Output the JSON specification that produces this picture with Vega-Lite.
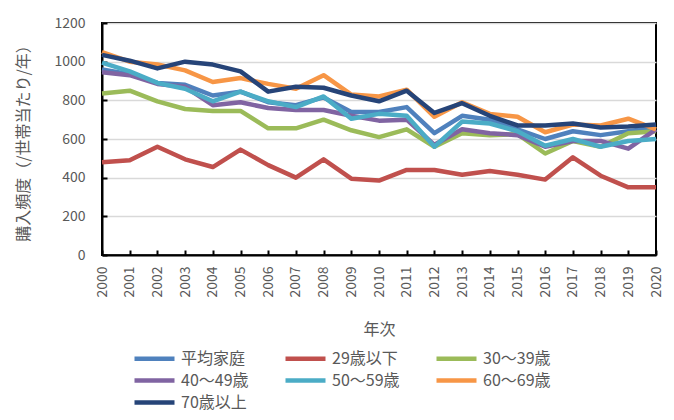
{
  "$schema": "https://vega.github.io/schema/vega-lite/v6.json",
  "width": 554,
  "height": 232,
  "autosize": "none",
  "padding": {"left": 102, "top": 23, "right": 18, "bottom": 165},
  "background": "white",
  "config": {
    "font": "Noto Sans CJK JP",
    "view": {"stroke": "black", "strokeWidth": 2},
    "axis": {"labelColor": "#595959", "titleColor": "#595959", "labelFontSize": 14, "titleFontSize": 15, "titleFontWeight": "normal", "domainColor": "black", "domainWidth": 2, "tickColor": "black", "tickWidth": 2}
  },
  "datasets": {
    "d": [
      {"s":"平均家庭","y":"2000","v":960},{"s":"平均家庭","y":"2001","v":935},{"s":"平均家庭","y":"2002","v":890},{"s":"平均家庭","y":"2003","v":880},{"s":"平均家庭","y":"2004","v":825},{"s":"平均家庭","y":"2005","v":845},{"s":"平均家庭","y":"2006","v":790},{"s":"平均家庭","y":"2007","v":775},{"s":"平均家庭","y":"2008","v":815},{"s":"平均家庭","y":"2009","v":740},{"s":"平均家庭","y":"2010","v":740},{"s":"平均家庭","y":"2011","v":765},{"s":"平均家庭","y":"2012","v":630},{"s":"平均家庭","y":"2013","v":720},{"s":"平均家庭","y":"2014","v":700},{"s":"平均家庭","y":"2015","v":650},{"s":"平均家庭","y":"2016","v":600},{"s":"平均家庭","y":"2017","v":640},{"s":"平均家庭","y":"2018","v":620},{"s":"平均家庭","y":"2019","v":640},{"s":"平均家庭","y":"2020","v":660},
      {"s":"29歳以下","y":"2000","v":480},{"s":"29歳以下","y":"2001","v":490},{"s":"29歳以下","y":"2002","v":560},{"s":"29歳以下","y":"2003","v":495},{"s":"29歳以下","y":"2004","v":455},{"s":"29歳以下","y":"2005","v":545},{"s":"29歳以下","y":"2006","v":465},{"s":"29歳以下","y":"2007","v":400},{"s":"29歳以下","y":"2008","v":495},{"s":"29歳以下","y":"2009","v":395},{"s":"29歳以下","y":"2010","v":385},{"s":"29歳以下","y":"2011","v":440},{"s":"29歳以下","y":"2012","v":440},{"s":"29歳以下","y":"2013","v":415},{"s":"29歳以下","y":"2014","v":435},{"s":"29歳以下","y":"2015","v":415},{"s":"29歳以下","y":"2016","v":390},{"s":"29歳以下","y":"2017","v":505},{"s":"29歳以下","y":"2018","v":410},{"s":"29歳以下","y":"2019","v":350},{"s":"29歳以下","y":"2020","v":350},
      {"s":"30～39歳","y":"2000","v":835},{"s":"30～39歳","y":"2001","v":850},{"s":"30～39歳","y":"2002","v":795},{"s":"30～39歳","y":"2003","v":755},{"s":"30～39歳","y":"2004","v":745},{"s":"30～39歳","y":"2005","v":745},{"s":"30～39歳","y":"2006","v":655},{"s":"30～39歳","y":"2007","v":655},{"s":"30～39歳","y":"2008","v":700},{"s":"30～39歳","y":"2009","v":645},{"s":"30～39歳","y":"2010","v":610},{"s":"30～39歳","y":"2011","v":650},{"s":"30～39歳","y":"2012","v":560},{"s":"30～39歳","y":"2013","v":630},{"s":"30～39歳","y":"2014","v":620},{"s":"30～39歳","y":"2015","v":625},{"s":"30～39歳","y":"2016","v":525},{"s":"30～39歳","y":"2017","v":590},{"s":"30～39歳","y":"2018","v":560},{"s":"30～39歳","y":"2019","v":630},{"s":"30～39歳","y":"2020","v":640},
      {"s":"40～49歳","y":"2000","v":945},{"s":"40～49歳","y":"2001","v":930},{"s":"40～49歳","y":"2002","v":885},{"s":"40～49歳","y":"2003","v":870},{"s":"40～49歳","y":"2004","v":775},{"s":"40～49歳","y":"2005","v":790},{"s":"40～49歳","y":"2006","v":760},{"s":"40～49歳","y":"2007","v":750},{"s":"40～49歳","y":"2008","v":750},{"s":"40～49歳","y":"2009","v":720},{"s":"40～49歳","y":"2010","v":695},{"s":"40～49歳","y":"2011","v":700},{"s":"40～49歳","y":"2012","v":570},{"s":"40～49歳","y":"2013","v":650},{"s":"40～49歳","y":"2014","v":630},{"s":"40～49歳","y":"2015","v":620},{"s":"40～49歳","y":"2016","v":560},{"s":"40～49歳","y":"2017","v":590},{"s":"40～49歳","y":"2018","v":590},{"s":"40～49歳","y":"2019","v":550},{"s":"40～49歳","y":"2020","v":650},
      {"s":"50～59歳","y":"2000","v":995},{"s":"50～59歳","y":"2001","v":950},{"s":"50～59歳","y":"2002","v":890},{"s":"50～59歳","y":"2003","v":860},{"s":"50～59歳","y":"2004","v":795},{"s":"50～59歳","y":"2005","v":845},{"s":"50～59歳","y":"2006","v":795},{"s":"50～59歳","y":"2007","v":765},{"s":"50～59歳","y":"2008","v":820},{"s":"50～59歳","y":"2009","v":705},{"s":"50～59歳","y":"2010","v":730},{"s":"50～59歳","y":"2011","v":720},{"s":"50～59歳","y":"2012","v":560},{"s":"50～59歳","y":"2013","v":690},{"s":"50～59歳","y":"2014","v":680},{"s":"50～59歳","y":"2015","v":640},{"s":"50～59歳","y":"2016","v":565},{"s":"50～59歳","y":"2017","v":600},{"s":"50～59歳","y":"2018","v":560},{"s":"50～59歳","y":"2019","v":590},{"s":"50～59歳","y":"2020","v":600},
      {"s":"60～69歳","y":"2000","v":1050},{"s":"60～69歳","y":"2001","v":1000},{"s":"60～69歳","y":"2002","v":985},{"s":"60～69歳","y":"2003","v":955},{"s":"60～69歳","y":"2004","v":895},{"s":"60～69歳","y":"2005","v":915},{"s":"60～69歳","y":"2006","v":885},{"s":"60～69歳","y":"2007","v":860},{"s":"60～69歳","y":"2008","v":930},{"s":"60～69歳","y":"2009","v":830},{"s":"60～69歳","y":"2010","v":820},{"s":"60～69歳","y":"2011","v":855},{"s":"60～69歳","y":"2012","v":715},{"s":"60～69歳","y":"2013","v":790},{"s":"60～69歳","y":"2014","v":730},{"s":"60～69歳","y":"2015","v":715},{"s":"60～69歳","y":"2016","v":635},{"s":"60～69歳","y":"2017","v":675},{"s":"60～69歳","y":"2018","v":670},{"s":"60～69歳","y":"2019","v":705},{"s":"60～69歳","y":"2020","v":650},
      {"s":"70歳以上","y":"2000","v":1035},{"s":"70歳以上","y":"2001","v":1005},{"s":"70歳以上","y":"2002","v":965},{"s":"70歳以上","y":"2003","v":1000},{"s":"70歳以上","y":"2004","v":985},{"s":"70歳以上","y":"2005","v":950},{"s":"70歳以上","y":"2006","v":845},{"s":"70歳以上","y":"2007","v":870},{"s":"70歳以上","y":"2008","v":865},{"s":"70歳以上","y":"2009","v":825},{"s":"70歳以上","y":"2010","v":795},{"s":"70歳以上","y":"2011","v":850},{"s":"70歳以上","y":"2012","v":735},{"s":"70歳以上","y":"2013","v":785},{"s":"70歳以上","y":"2014","v":720},{"s":"70歳以上","y":"2015","v":670},{"s":"70歳以上","y":"2016","v":670},{"s":"70歳以上","y":"2017","v":680},{"s":"70歳以上","y":"2018","v":660},{"s":"70歳以上","y":"2019","v":665},{"s":"70歳以上","y":"2020","v":675}
    ]
  },
  "data": {"name": "d"},
  "mark": {"type": "line", "strokeWidth": 4.5, "strokeCap": "butt", "strokeJoin": "round"},
  "encoding": {
    "x": {
      "field": "y", "type": "ordinal", "title": "年次",
      "scale": {"type": "point", "padding": 0},
      "axis": {"labelAngle": -90, "labelAlign": "right", "labelBaseline": "middle", "tickSize": -5, "labelPadding": 16, "titlePadding": 24, "titleFontSize": 16, "grid": false}
    },
    "y": {
      "field": "v", "type": "quantitative", "title": "購入頻度（/世帯当たり/年）",
      "scale": {"domain": [0, 1200]},
      "axis": {"values": [0, 200, 400, 600, 800, 1000, 1200], "format": "d", "tickSize": -5, "labelPadding": 22, "titlePadding": 22, "titleFontSize": 16, "gridColor": "#D9D9D9", "gridWidth": 1.5}
    },
    "color": {
      "field": "s", "type": "nominal", "title": null,
      "sort": ["平均家庭","29歳以下","30～39歳","40～49歳","50～59歳","60～69歳","70歳以上"],
      "scale": {
        "domain": ["平均家庭","29歳以下","30～39歳","40～49歳","50～59歳","60～69歳","70歳以上"],
        "range": ["#4F81BD","#C0504D","#9BBB59","#8064A2","#4BACC6","#F79646","#264478"]
      },
      "legend": {
        "orient": "none", "direction": "horizontal", "legendX": 30, "legendY": 323, "columns": 3, "gridAlign": "all",
        "symbolType": "M-1,0L3,0", "symbolSize": 400, "symbolStrokeWidth": 4.5, "symbolStrokeCap": "round",
        "labelFontSize": 16, "labelColor": "#595959", "labelOffset": 24, "columnPadding": 27, "rowPadding": -1
      }
    }
  }
}
